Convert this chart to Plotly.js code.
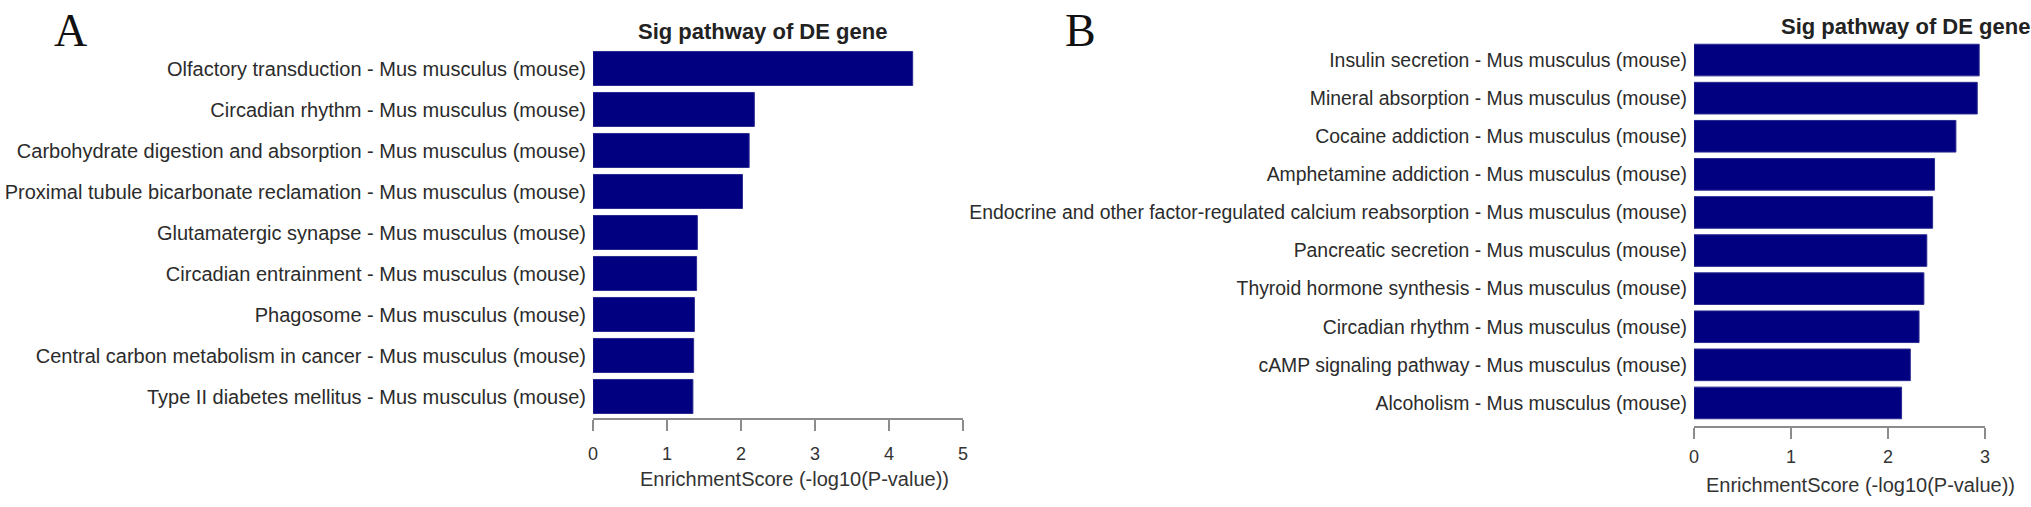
<!DOCTYPE html>
<html>
<head>
<meta charset="utf-8">
<script src="https://cdn.plot.ly/plotly-3.0.1.min.js"></script>
<style>
  html, body { margin: 0; padding: 0; background: #ffffff; }
  #chart { width: 2031px; height: 507px; }
</style>
</head>
<body>
<div id="chart"></div>
<script>
// ---- Data ----
const pathwaysA = [
  "Olfactory transduction - Mus musculus (mouse)",
  "Circadian rhythm - Mus musculus (mouse)",
  "Carbohydrate digestion and absorption - Mus musculus (mouse)",
  "Proximal tubule bicarbonate reclamation - Mus musculus (mouse)",
  "Glutamatergic synapse - Mus musculus (mouse)",
  "Circadian entrainment - Mus musculus (mouse)",
  "Phagosome - Mus musculus (mouse)",
  "Central carbon metabolism in cancer - Mus musculus (mouse)",
  "Type II diabetes mellitus - Mus musculus (mouse)"
];
const scoresA = [4.32, 2.18, 2.11, 2.02, 1.41, 1.40, 1.37, 1.36, 1.35];

const pathwaysB = [
  "Insulin secretion - Mus musculus (mouse)",
  "Mineral absorption - Mus musculus (mouse)",
  "Cocaine addiction - Mus musculus (mouse)",
  "Amphetamine addiction - Mus musculus (mouse)",
  "Endocrine and other factor-regulated calcium reabsorption - Mus musculus (mouse)",
  "Pancreatic secretion - Mus musculus (mouse)",
  "Thyroid hormone synthesis - Mus musculus (mouse)",
  "Circadian rhythm - Mus musculus (mouse)",
  "cAMP signaling pathway - Mus musculus (mouse)",
  "Alcoholism - Mus musculus (mouse)"
];
const scoresB = [2.94, 2.92, 2.70, 2.48, 2.46, 2.40, 2.37, 2.32, 2.23, 2.14];

const ticksA = [0, 1, 2, 3, 4, 5];
const ticksB = [0, 1, 2, 3];

const panelLetters = ["A", "B"];
const panelTitle = "Sig pathway of DE gene";
const xTitle = "EnrichmentScore (-log10(P-value))";

// ---- Style ----
const W = 2031, H = 507;
const barColor = "#000080";
const sans = "'Liberation Sans', Arial, sans-serif";
const labelFontA = { family: sans, size: 20, color: "#2b2b2b" };
const labelFontB = { family: sans, size: 19.4, color: "#2b2b2b" };
const tickFont = { family: sans, size: 18, color: "#333333" };
const xTitleFont = { family: sans, size: 20, color: "#333333" };
const px = v => v / W;
const py = v => (H - v) / H;

const traces = [
  {
    type: "bar", orientation: "h",
    x: scoresA, y: pathwaysA,
    xaxis: "x", yaxis: "y",
    marker: { color: barColor, line: { color: "#2a2a90", width: 1 } },
    hoverinfo: "x+y", showlegend: false
  },
  {
    type: "bar", orientation: "h",
    x: scoresB, y: pathwaysB,
    xaxis: "x2", yaxis: "y2",
    marker: { color: barColor, line: { color: "#2a2a90", width: 1 } },
    hoverinfo: "x+y", showlegend: false
  }
];

const xCommon = {
  showgrid: false, zeroline: false,
  showline: true, linecolor: "#8c8c8c", linewidth: 2,
  ticks: "outside", ticklen: 11, tickwidth: 2, tickcolor: "#8c8c8c",
  tickfont: tickFont,
  fixedrange: true
};
const yCommon = {
  showgrid: false, zeroline: false, showline: false, ticks: "",
  ticklabelstandoff: 6,
  autorange: "reversed", fixedrange: true
};

const layout = {
  width: W, height: H,
  margin: { l: 0, r: 0, t: 0, b: 0 },
  paper_bgcolor: "#ffffff", plot_bgcolor: "#ffffff",
  bargap: 0.17,
  xaxis: Object.assign({}, xCommon, {
    domain: [px(593), px(963)], range: [0, 5],
    tickvals: ticksA, anchor: "free", position: py(419),
    ticklabelstandoff: 7
  }),
  yaxis: Object.assign({}, yCommon, {
    domain: [py(417), py(48)], anchor: "x", tickfont: labelFontA
  }),
  xaxis2: Object.assign({}, xCommon, {
    domain: [px(1694), px(1985)], range: [0, 3],
    tickvals: ticksB, anchor: "free", position: py(427),
    ticklabelstandoff: 2
  }),
  yaxis2: Object.assign({}, yCommon, {
    domain: [py(422), py(41)], anchor: "x2", tickfont: labelFontB
  }),
  annotations: [
    { text: panelLetters[0], xref: "paper", yref: "paper", x: px(70), y: py(31),
      xanchor: "center", yanchor: "middle", showarrow: false,
      font: { family: "'Liberation Serif', 'Times New Roman', serif", size: 46, color: "#111111" } },
    { text: panelLetters[1], xref: "paper", yref: "paper", x: px(1080), y: py(31),
      xanchor: "center", yanchor: "middle", showarrow: false,
      font: { family: "'Liberation Serif', 'Times New Roman', serif", size: 46, color: "#111111" } },
    { text: "<b>" + panelTitle + "</b>", xref: "paper", yref: "paper", x: px(762), y: py(32),
      xanchor: "center", yanchor: "middle", showarrow: false,
      font: { family: sans, size: 22, color: "#222222" } },
    { text: "<b>" + panelTitle + "</b>", xref: "paper", yref: "paper", x: px(1905), y: py(26),
      xanchor: "center", yanchor: "middle", showarrow: false,
      font: { family: sans, size: 22, color: "#222222" } },
    { text: xTitle, xref: "paper", yref: "paper", x: px(794), y: py(479),
      xanchor: "center", yanchor: "middle", showarrow: false,
      font: xTitleFont },
    { text: xTitle, xref: "paper", yref: "paper", x: px(1860), y: py(485),
      xanchor: "center", yanchor: "middle", showarrow: false,
      font: xTitleFont }
  ]
};

Plotly.newPlot("chart", traces, layout, { displayModeBar: false, staticPlot: true });
</script>
</body>
</html>
